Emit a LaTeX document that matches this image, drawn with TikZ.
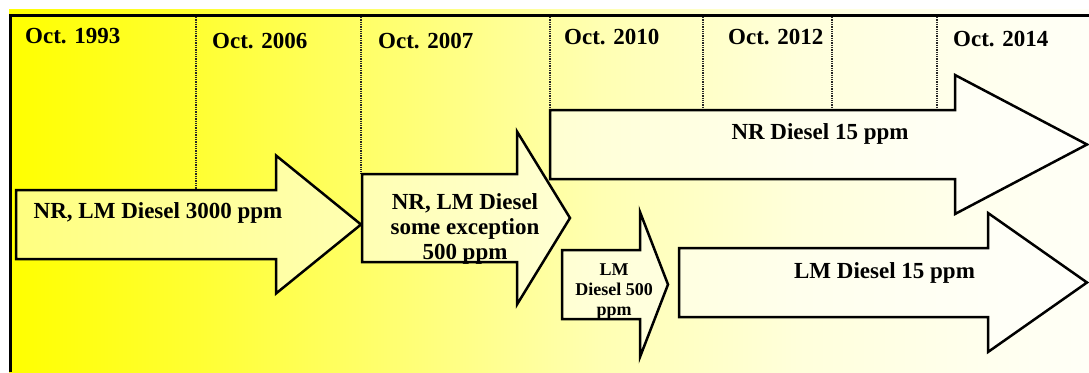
\documentclass[tikz,border=0pt]{standalone}
\usepackage{fontspec}
\setmainfont{Liberation Serif}

\pgfdeclarehorizontalshading{bgfade}{100bp}{rgb(0bp)=(1,1,0); rgb(25bp)=(1,1,0); rgb(33.8bp)=(1,1,0.2); rgb(43.1bp)=(1,1,0.45); rgb(52.4bp)=(1,1,0.7); rgb(61.6bp)=(1,1,0.86); rgb(75bp)=(1,1,0.97); rgb(100bp)=(1,1,0.97)}

\tikzset{
	year/.style={anchor=base west, inner sep=0pt, font=\fontsize{23}{25}\selectfont\bfseries},
	lbl/.style={inner sep=0pt, align=center, font=\fontsize{23}{25}\selectfont\bfseries},
	smalllbl/.style={inner sep=0pt, align=center, font=\fontsize{18}{20}\selectfont\bfseries},
	tlarrowstyle/.style={draw=black, line width=2.5pt, fill=white, fill opacity=0.5, line join=miter},
	yeargrid/.style={densely dotted, line width=1.3pt, black!85},
}

% left x, head x, tip x, middle y, half shaft, half head
\newcommand{\tlarrow}[6]{%
	\draw[tlarrowstyle] (#1,#4-#5) -- (#2,#4-#5) -- (#2,#4-#6) -- (#3,#4)
		-- (#2,#4+#6) -- (#2,#4+#5) -- (#1,#4+#5) -- cycle;}

\begin{document}
\begin{tikzpicture}[x=1pt, y=-1pt]
		\useasboundingbox (0,0) rectangle (1089,372);
		\shade[shading=bgfade] (9,9) rectangle (1089,372);
		\draw[line width=3pt] (10.5,372) -- (10.5,15.8) -- (1089,15.8);
		\foreach \x/\y in {196/190, 361/174, 550/110, 703/110, 832/110, 937/110}
			\draw[yeargrid] (\x,17) -- (\x,\y);

		\node[year] (y1993) at (25,43) {Oct. 1993};
		\node[year] (y2006) at (212,48) {Oct. 2006};
		\node[year] (y2007) at (378,48) {Oct. 2007};
		\node[year] (y2010) at (564,44) {Oct. 2010};
		\node[year] (y2012) at (728,44) {Oct. 2012};
		\node[year] (y2014) at (953,46) {Oct. 2014};

		\tlarrow{16}{276}{361}{224.5}{34.5}{69}
		\tlarrow{362}{517}{570}{218}{44}{86.5}
		\tlarrow{550}{955}{1087}{144.5}{34.5}{69.5}
		\tlarrow{562}{640}{668}{284.5}{34.5}{72.5}
		\tlarrow{679}{988}{1087}{282.5}{34.5}{69.5}

		\node[lbl, anchor=base] (nrlm3000) at (158,218) {NR, LM Diesel 3000 ppm};
		\node[lbl, anchor=north] (nrlm500) at (465,193) {NR, LM Diesel\\some exception\\500 ppm};
		\node[lbl, anchor=base] (nr15) at (820,139) {NR Diesel 15 ppm};
		\node[smalllbl, anchor=north] (lm500) at (614,263.5) {LM\\Diesel 500\\ppm};
		\node[lbl, anchor=base] (lm15) at (884.5,278) {LM Diesel 15 ppm};
\end{tikzpicture}
\end{document}
